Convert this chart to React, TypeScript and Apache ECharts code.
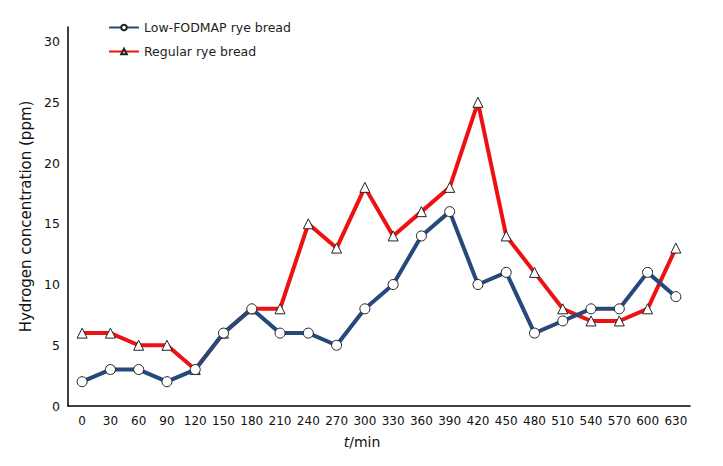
import React, { useEffect, useRef } from "react";
import * as echarts from "echarts";

const categories = ["0","30","60","90","120","150","180","210","240","270","300","330","360","390","420","450","480","510","540","570","600","630"];
const lowFodmap = [2,3,3,2,3,6,8,6,6,5,8,10,14,16,10,11,6,7,8,8,11,9];
const regular = [6,6,5,5,3,6,8,8,15,13,18,14,16,18,25,14,11,8,7,7,8,13];
const yTicks = [0, 5, 10, 15, 20, 25, 30];

const FONT = "DejaVu Sans";

export default function App() {
  const ref = useRef<HTMLDivElement>(null);
  useEffect(() => {
    if (!ref.current) return;
    const chart = echarts.init(ref.current, null, { renderer: "svg" });
    chart.setOption({
      animation: false,
      backgroundColor: "#ffffff",
      grid: { left: 68, right: 33, top: 27, bottom: 60 },
      legend: {
        orient: "vertical",
        left: 108,
        top: 20,
        padding: 0,
        itemWidth: 30,
        itemHeight: 7,
        itemGap: 9,
        textStyle: { fontFamily: FONT, fontSize: 12.5, color: "#222", lineHeight: 15 },
        data: ["Low-FODMAP rye bread", "Regular rye bread"],
      },
      xAxis: {
        type: "category",
        data: categories,
        boundaryGap: true,
        axisLine: { lineStyle: { color: "#000", width: 1.5 } },
        axisTick: { show: false },
        axisLabel: { color: "#111", fontFamily: FONT, fontSize: 12, margin: 9, interval: 0 },
        name: "{i|t}{n|/min}",
        nameLocation: "middle",
        nameGap: 29,
        nameTextStyle: {
          padding: [0, 34, 0, 0],
          rich: {
            i: { fontFamily: FONT, fontSize: 14, fontStyle: "italic", color: "#111" },
            n: { fontFamily: FONT, fontSize: 14, color: "#111" },
          },
        },
      },
      yAxis: {
        type: "value",
        min: yTicks[0],
        max: 31.2,
        interval: 5,
        splitLine: { show: false },
        axisLine: { show: true, lineStyle: { color: "#000", width: 1.5 } },
        axisTick: { show: false },
        axisLabel: { color: "#111", fontFamily: FONT, fontSize: 12.5, margin: 8, showMaxLabel: false },
        name: "Hydrogen concentration (ppm)",
        nameLocation: "middle",
        nameGap: 34,
        nameTextStyle: { fontFamily: FONT, fontSize: 15, color: "#111" },
      },
      series: [
        {
          name: "Regular rye bread",
          type: "line",
          data: regular,
          symbol: "triangle",
          symbolSize: 10,
          lineStyle: { color: "#ee1111", width: 4 },
          itemStyle: { color: "#ffffff", borderColor: "#222", borderWidth: 1 },
          z: 2,
        },
        {
          name: "Low-FODMAP rye bread",
          type: "line",
          data: lowFodmap,
          symbol: "circle",
          symbolSize: 10,
          lineStyle: { color: "#24497a", width: 4 },
          itemStyle: { color: "#ffffff", borderColor: "#222", borderWidth: 1 },
          z: 3,
        },
      ],
    });
    return () => chart.dispose();
  }, []);
  return <div ref={ref} style={{ width: 723, height: 466, position: "absolute", left: 0, top: 0 }} />;
}
